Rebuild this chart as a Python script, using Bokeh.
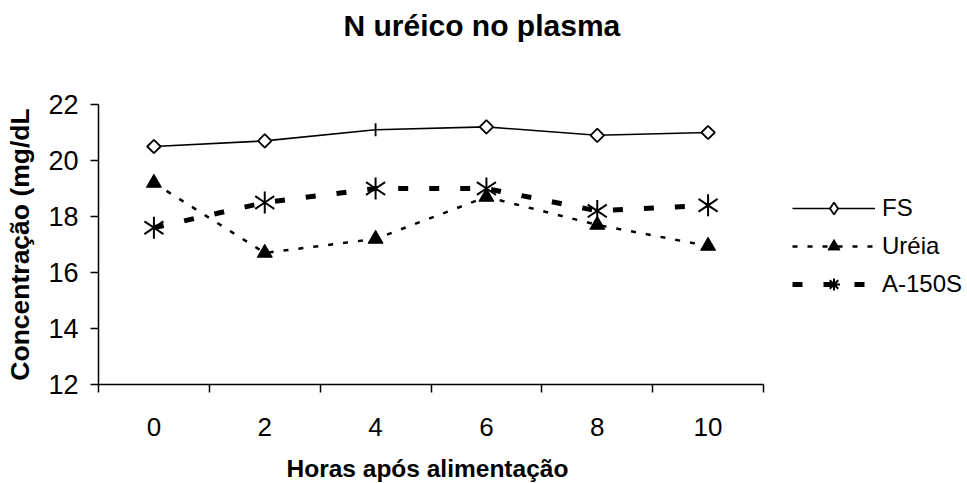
import math
from bokeh.plotting import figure
from bokeh.models import (ColumnDataSource, FixedTicker, Range1d, Legend, LegendItem, Title)
from bokeh.embed import file_html
from bokeh.resources import INLINE

# ---- data ----
horas = [0, 2, 4, 6, 8, 10]
hora_labels = ["0", "2", "4", "6", "8", "10"]
fs = [20.5, 20.7, 21.1, 21.2, 20.9, 21.0]
ureia = [19.2, 16.7, 17.2, 18.7, 17.7, 16.95]
a150s = [17.6, 18.5, 19.0, 19.0, 18.2, 18.4]
y_ticks = [12, 14, 16, 18, 20, 22]
series_names = ["FS", "Uréia", "A-150S"]
chart_title = "N uréico no plasma"
x_title = "Horas após alimentação"
y_title = "Concentração (mg/dL"

FONT = "Liberation Sans"

# category band edges: one hour either side of each sampling time
x_lo, x_hi = horas[0] - 1, horas[-1] + 1
# frame is widened to the right edge so the legend can sit beside the axis
x_view_hi = x_lo + (x_hi - x_lo) * 869 / 665

p = figure(width=967, height=483, output_backend="svg", toolbar_location=None,
           x_range=Range1d(x_lo, x_view_hi), y_range=Range1d(12, 22),
           min_border_left=98, min_border_right=0, min_border_top=104,
           min_border_bottom=98, title_location=None)
p.background_fill_color = "white"
p.border_fill_color = "white"
p.outline_line_color = None
p.xgrid.visible = False
p.ygrid.visible = False

# x axis: labels at category centres, ticks at category boundaries
xa = p.xaxis[0]
xa.bounds = (x_lo, x_hi)
xa.ticker = FixedTicker(ticks=horas, minor_ticks=[h - 1 for h in horas] + [x_hi])
xa.major_label_overrides = {h: l for h, l in zip(horas, hora_labels)}
xa.major_tick_out = 0
xa.major_tick_in = 0
xa.minor_tick_out = 8
xa.minor_tick_in = 0
xa.minor_tick_line_color = "black"
xa.minor_tick_line_width = 1.5
xa.axis_line_color = "black"
xa.axis_line_width = 1.5
xa.major_label_standoff = 25
xa.major_label_text_font = FONT
xa.major_label_text_font_size = "26px"
xa.major_label_text_color = "black"
xa.axis_label = " "
xa.axis_label_text_font_size = "1px"
xa.axis_label_standoff = 12

ya = p.yaxis[0]
ya.ticker = FixedTicker(ticks=y_ticks)
ya.major_tick_out = 8
ya.major_tick_in = 0
ya.major_tick_line_color = "black"
ya.major_tick_line_width = 1.5
ya.minor_tick_out = 0
ya.minor_tick_in = 0
ya.axis_line_color = "black"
ya.axis_line_width = 1.5
ya.major_label_standoff = 12
ya.major_label_text_font = FONT
ya.major_label_text_font_size = "27px"
ya.major_label_text_color = "black"
ya.axis_label = y_title
ya.axis_label_text_font = FONT
ya.axis_label_text_font_size = "26.5px"
ya.axis_label_text_font_style = "bold"
ya.axis_label_standoff = 10
ya.axis_label_text_color = "black"

# x axis title, placed below the axis and centred under the category bands
p.add_layout(Title(text=x_title, align="left", offset=188, vertical_align="top", standoff=0,
                   text_font=FONT, text_font_size="24.5px", text_font_style="bold",
                   text_color="black"), "below")

# chart title, with an empty spacer between it and the plot frame
p.add_layout(Title(text=" ", text_font_size="1px", standoff=58), "above")
p.add_layout(Title(text=chart_title, align="left", offset=245, vertical_align="top", standoff=0,
                   text_font=FONT, text_font_size="30px", text_font_style="bold",
                   text_color="black"), "above")

# FS: solid line, open diamonds (the 4 h point shows only a vertical tick)
fs_marker = ["square", "square", "dash", "square", "square", "square"]
fs_angle = [math.pi / 4, math.pi / 4, math.pi / 2, math.pi / 4, math.pi / 4, math.pi / 4]
fs_size = [9.5, 9.5, 13, 9.5, 9.5, 9.5]
src_fs = ColumnDataSource(dict(x=horas, y=fs, m=fs_marker, a=fs_angle, s=fs_size))
r_fs_l = p.line("x", "y", source=src_fs, line_color="black", line_width=1.6)
p.scatter("x", "y", source=src_fs, marker="m", angle="a", size="s",
          fill_color="white", line_color="black", line_width=1.8)

# Uréia: dotted line, filled triangles
src_u = ColumnDataSource(dict(x=horas, y=ureia))
r_u_l = p.line("x", "y", source=src_u, line_color="black", line_width=2.5, line_dash="5 10")
r_u_m = p.scatter("x", "y", source=src_u, marker="triangle", size=15,
                  fill_color="black", line_color="black")

# A-150S: heavy dashed line, six-armed asterisks
src_a = ColumnDataSource(dict(x=horas, y=a150s))
r_a_l = p.line("x", "y", source=src_a, line_color="black", line_width=5, line_dash="10 21")
p.scatter("x", "y", source=src_a, marker="y", size=22, angle=0,
          line_color="black", line_width=2)
p.scatter("x", "y", source=src_a, marker="y", size=22, angle=math.pi,
          line_color="black", line_width=2)

# legend-only marker renderers (a single non-drawn NaN point each)
nan_pt = dict(x=[float("nan")], y=[float("nan")])
lg_fs = p.scatter("x", "y", source=ColumnDataSource(nan_pt), marker="diamond",
                  fill_color="white", line_color="black", line_width=1.8)
lg_a = p.scatter("x", "y", source=ColumnDataSource(dict(nan_pt)), marker="asterisk",
                 line_color="black", line_width=2)

legend = Legend(items=[
    LegendItem(label=series_names[0], renderers=[r_fs_l, lg_fs]),
    LegendItem(label=series_names[1], renderers=[r_u_l, r_u_m]),
    LegendItem(label=series_names[2], renderers=[r_a_l, lg_a]),
], location=(694, 85))
legend.border_line_color = None
legend.background_fill_alpha = 0
legend.padding = 0
legend.margin = 0
legend.glyph_width = 83
legend.glyph_height = 30
legend.label_height = 30
legend.spacing = 8
legend.label_standoff = 7
legend.label_text_font = FONT
legend.label_text_font_size = "24px"
legend.label_text_color = "black"
p.add_layout(legend, "center")

open("out.html", "w").write(file_html(p, INLINE))
